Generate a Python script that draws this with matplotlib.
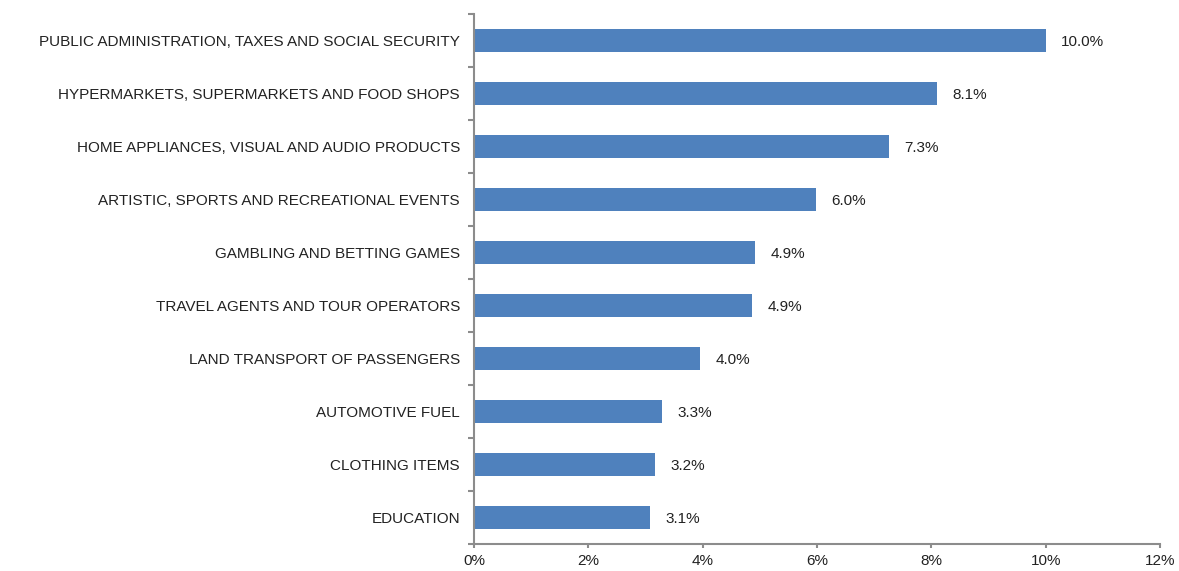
import matplotlib
matplotlib.use('Agg')
import matplotlib.pyplot as plt
from matplotlib.ticker import FixedLocator, PercentFormatter

plt.rcParams['font.family'] = ['Liberation Sans', 'DejaVu Sans']

# Share of spending by sector, top to bottom.
categories = [
    'PUBLIC ADMINISTRATION, TAXES AND SOCIAL SECURITY',
    'HYPERMARKETS, SUPERMARKETS AND FOOD SHOPS',
    'HOME APPLIANCES, VISUAL AND AUDIO PRODUCTS',
    'ARTISTIC, SPORTS AND RECREATIONAL EVENTS',
    'GAMBLING AND BETTING GAMES',
    'TRAVEL AGENTS AND TOUR OPERATORS',
    'LAND TRANSPORT OF PASSENGERS',
    'AUTOMOTIVE FUEL',
    'CLOTHING ITEMS',
    'EDUCATION',
]
shares = [10.0, 8.1, 7.26, 5.98, 4.92, 4.86, 3.95, 3.29, 3.17, 3.08]
x_ticks = [0, 2, 4, 6, 8, 10, 12]

bar_color = '#4f81bd'
axis_color = '#8c8c8c'
text_color = '#222222'

fig = plt.figure(figsize=(11.79, 5.71), dpi=100)
ax = fig.add_axes([0.402, 0.0473, 0.582, 0.928])

pos = list(range(len(categories)))[::-1]
ax.barh(pos, shares, height=0.43, color=bar_color)

for p, v in zip(pos, shares):
    ax.text(v + 0.27, p - 0.03, f'{v:.1f}%', va='center', ha='left',
            fontsize=11, color=text_color)

ax.set_xlim(0, 12)
ax.set_ylim(-0.5, len(categories) - 0.5)
ax.set_xticks(x_ticks)
ax.xaxis.set_major_formatter(PercentFormatter(decimals=0))
ax.set_yticks(pos)
ax.set_yticklabels(categories)
ax.yaxis.set_minor_locator(FixedLocator([i - 0.5 for i in range(len(categories) + 1)]))

for side in ('top', 'right'):
    ax.spines[side].set_visible(False)
for side in ('left', 'bottom'):
    ax.spines[side].set_color(axis_color)
    ax.spines[side].set_linewidth(1.5)

ax.tick_params(axis='y', which='major', length=0, pad=10, labelsize=11, labelcolor=text_color)
ax.tick_params(axis='y', which='minor', length=4, width=1.5, color=axis_color, direction='out')
ax.tick_params(axis='x', which='major', length=3, width=1.5, color=axis_color,
               pad=4, labelsize=11, labelcolor=text_color)

fig.savefig('out.png', dpi=100)
